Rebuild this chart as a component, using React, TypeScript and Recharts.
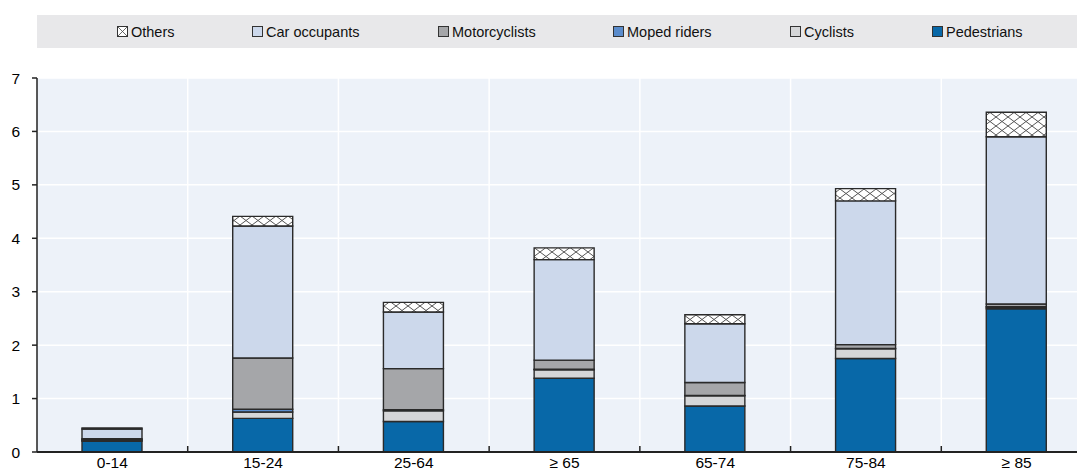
import React from "react";
import { BarChart, Bar, XAxis, YAxis, CartesianGrid, Legend } from "recharts";

const ageGroups = ["0-14", "15-24", "25-64", "≥ 65", "65-74", "75-84", "≥ 85"];
const pedestrians = [0.2, 0.63, 0.57, 1.38, 0.86, 1.75, 2.68];
const cyclists = [0.02, 0.12, 0.2, 0.16, 0.19, 0.18, 0.03];
const mopedRiders = [0.01, 0.05, 0.02, 0.01, 0.01, 0.01, 0.01];
const motorcyclists = [0.02, 0.96, 0.77, 0.17, 0.24, 0.07, 0.05];
const carOccupants = [0.18, 2.47, 1.06, 1.88, 1.1, 2.69, 3.13];
const others = [0.02, 0.18, 0.18, 0.22, 0.17, 0.23, 0.46];
const yTicks = [0, 1, 2, 3, 4, 5, 6, 7];

const data = ageGroups.map((age, i) => ({
  age,
  pedestrians: pedestrians[i],
  cyclists: cyclists[i],
  moped: mopedRiders[i],
  motorcyclists: motorcyclists[i],
  car: carOccupants[i],
  others: others[i],
}));

const series = [
  { key: "pedestrians", name: "Pedestrians", fill: "#0868a8" },
  { key: "cyclists", name: "Cyclists", fill: "#d5d6d8" },
  { key: "moped", name: "Moped riders", fill: "#5b8ccc" },
  { key: "motorcyclists", name: "Motorcyclists", fill: "#a5a6a9" },
  { key: "car", name: "Car occupants", fill: "#ccd8eb" },
  { key: "others", name: "Others", fill: "url(#hatch)" },
];

// legend order + x offsets inside the grey band
const legendItems = [
  { key: "others", left: 80 },
  { key: "car", left: 215 },
  { key: "motorcyclists", left: 401 },
  { key: "moped", left: 576 },
  { key: "cyclists", left: 753 },
  { key: "pedestrians", left: 895 },
];

const CHART_W = 1100;
const MARGIN = { top: 78, right: 8, left: 0, bottom: 0 };
const Y_W = 37;
const BAND = (CHART_W - MARGIN.right - Y_W) / ageGroups.length;
const AXIS_FONT = "'Liberation Sans Narrow', 'Arial Narrow', 'Liberation Sans', Arial, sans-serif";
const LEGEND_FONT = "'Liberation Sans', Arial, sans-serif";

function XTick(props: any) {
  const { x, y, payload, index } = props;
  return (
    <g>
      {index > 0 && (
        <line x1={x - BAND / 2} x2={x - BAND / 2} y1={y} y2={y - 6} stroke="#222" strokeWidth={1.5} />
      )}
      <text x={x} y={y} dy={16} textAnchor="middle" fontSize={15.5} fontFamily={AXIS_FONT} fill="#000">
        {payload.value}
      </text>
    </g>
  );
}

function LegendIcon({ k, fill }: { k: string; fill: string }) {
  if (k === "others") {
    return (
      <svg width={11} height={11} style={{ display: "block" }}>
        <rect x={0.5} y={0.5} width={10} height={10} fill="#fff" stroke="#333" />
        <path d="M1,1 L10,10 M1,10 L10,1" stroke="#444" strokeWidth={0.8} />
      </svg>
    );
  }
  return (
    <svg width={11} height={11} style={{ display: "block" }}>
      <rect x={0.5} y={0.5} width={10} height={10} fill={fill} stroke="#333" />
    </svg>
  );
}

function LegendContent() {
  return (
    <div style={{ position: "relative", width: "100%", height: "100%", background: "#e8e8ea" }}>
      {legendItems.map((it) => {
        const s = series.find((x) => x.key === it.key)!;
        return (
          <div
            key={it.key}
            style={{
              position: "absolute",
              left: it.left,
              top: 0,
              height: "100%",
              display: "flex",
              alignItems: "center",
              gap: 3,
              fontFamily: LEGEND_FONT,
              fontSize: 14.5,
              color: "#111",
            }}
          >
            <LegendIcon k={it.key} fill={s.fill} />
            <span>{s.name}</span>
          </div>
        );
      })}
    </div>
  );
}

export default function App() {
  return (
    <div style={{ position: "absolute", left: 0, top: 0, width: 1077, height: 474, overflow: "hidden", background: "#fff" }}>
      <BarChart width={CHART_W} height={474} data={data} margin={MARGIN} barSize={60}>
        <defs>
          <pattern id="hatch" patternUnits="userSpaceOnUse" width={12} height={9}>
            <rect width={12} height={9} fill="#fff" />
            <path d="M0,0 L12,9 M12,0 L0,9" stroke="#555" strokeWidth={1} />
          </pattern>
        </defs>
        <CartesianGrid
          fill="#edf2f9"
          fillOpacity={1}
          stroke="#fff"
          strokeWidth={1.5}
          verticalCoordinatesGenerator={({ offset }: any) =>
            [1, 2, 3, 4, 5, 6].map((i) => offset.left + (i * offset.width) / ageGroups.length)
          }
        />
        <XAxis
          dataKey="age"
          height={22}
          tickLine={false}
          tickSize={0}
          tickMargin={0}
          axisLine={{ stroke: "#222", strokeWidth: 2 }}
          tick={<XTick />}
          interval={0}
        />
        <YAxis
          width={Y_W}
          domain={[0, 7]}
          ticks={yTicks}
          tickSize={5}
          tickMargin={12}
          axisLine={{ stroke: "#222", strokeWidth: 1.5 }}
          tickLine={{ stroke: "#222", strokeWidth: 1.5 }}
          tick={{ fontSize: 15.5, fontFamily: AXIS_FONT, fill: "#000" }}
        />
        <Legend
          verticalAlign="middle"
          layout="horizontal"
          wrapperStyle={{ top: 15, left: 37, width: 1040, height: 33 }}
          content={<LegendContent />}
        />
        {series.map((s) => (
          <Bar
            key={s.key}
            dataKey={s.key}
            name={s.name}
            stackId="a"
            fill={s.fill}
            stroke="#2a2a2a"
            strokeWidth={1.4}
            isAnimationActive={false}
          />
        ))}
      </BarChart>
    </div>
  );
}
